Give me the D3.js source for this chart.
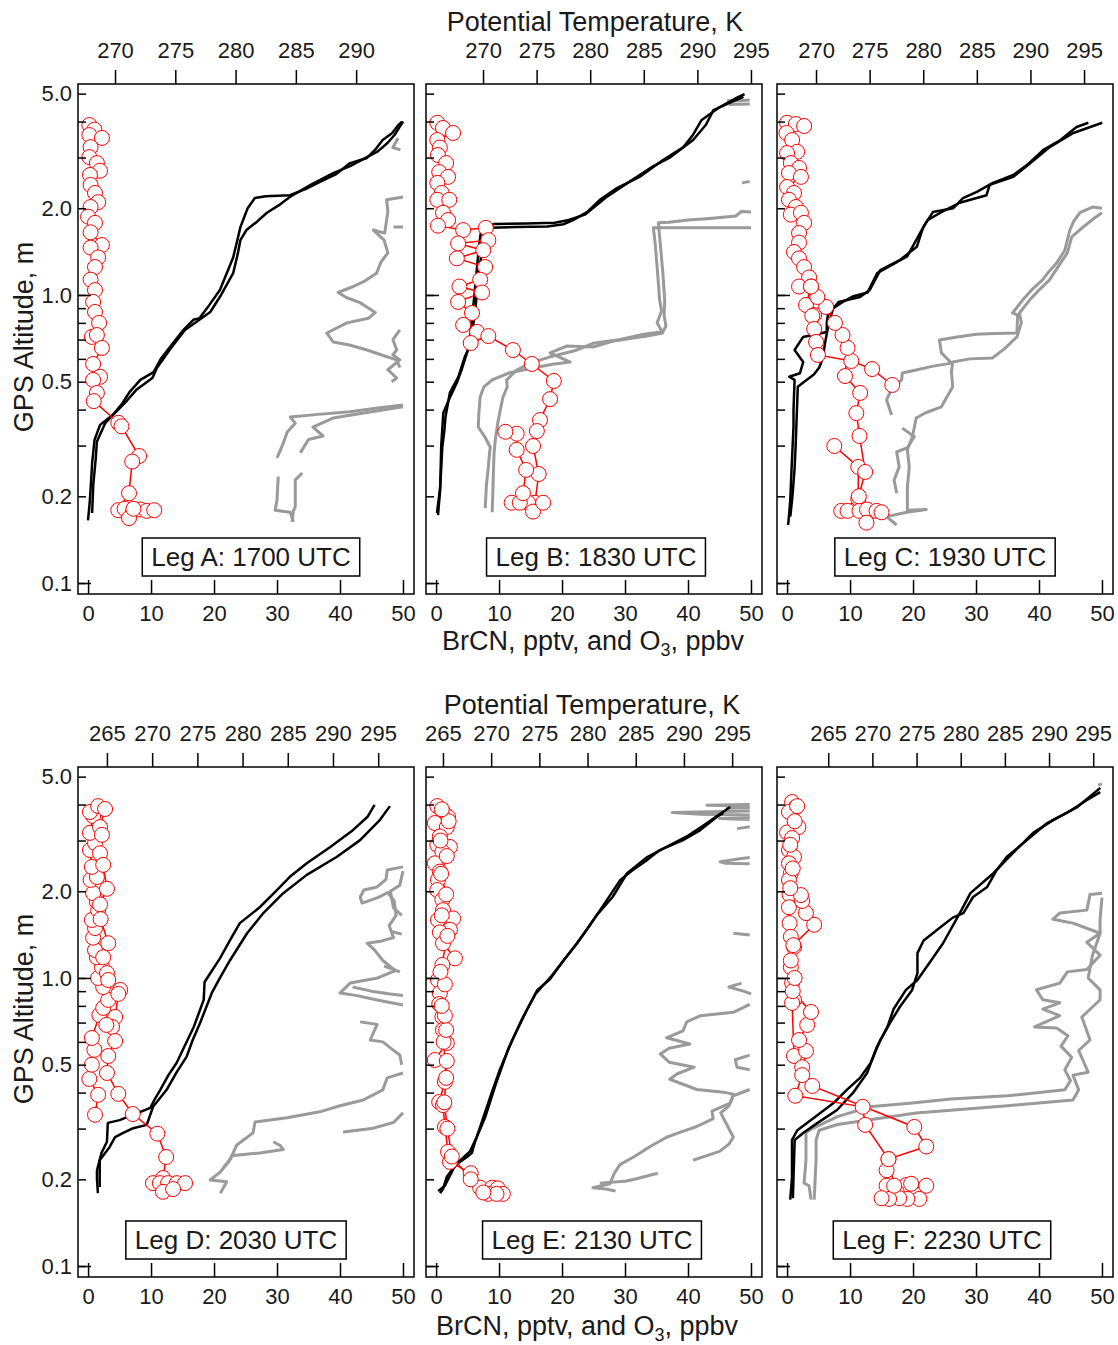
<!DOCTYPE html>
<html lang="en">
<head>
<meta charset="UTF-8">
<title>BrCN, O3 and potential temperature profiles</title>
<script src="https://d3js.org/d3.v7.min.js"></script>
<style>
  body { margin: 0; background: #fff; }
  svg text { font-family: "Liberation Sans", Arial, Helvetica, sans-serif; fill: #1a1a1a; }
</style>
</head>
<body>
<svg id="chart" width="1118" height="1345"></svg>
<script>
// ---- data: [value, altitude m]; null = gap in the record ----
// BrCN (pptv) and O3 (ppbv) share the bottom axis, theta (K) uses the top axis

const legLabels = ["Leg A: 1700 UTC", "Leg B: 1830 UTC", "Leg C: 1930 UTC",
                   "Leg D: 2030 UTC", "Leg E: 2130 UTC", "Leg F: 2230 UTC"];

const thetaDomains = [[266.93, 294.8], [264.68, 296.03], [266.36, 297.7],
                      [261.8, 298.96], [263.24, 298.1], [259.2, 297.24]];

const altTicks = [0.1, 0.2, 0.3, 0.4, 0.5, 0.6, 0.7, 0.8, 0.9, 1, 2, 3, 4, 5];
const altDecades = [0.1, 1];
const altLabels = [0.1, 0.2, 0.5, 1, 2, 5];
const mixTicks = [0, 10, 20, 30, 40, 50];
const thetaTicksTop = [270, 275, 280, 285, 290, 295];
const thetaTicksBottom = [265, 270, 275, 280, 285, 290, 295];

// Leg A
const legA_brcn = [[0.2,3.89],[1.0,3.75],[0.2,3.59],[2.2,3.51],[0.4,3.26],[0.2,3.01],[1.4,2.87],[1.9,2.70],[0.3,2.61],
  [0.4,2.41],[1.1,2.26],[1.6,2.10],[0.4,2.02],[0.0,1.87],[1.1,1.78],[0.4,1.65],[2.2,1.49],[0.4,1.46],[1.6,1.35],
  [1.1,1.25],[0.4,1.13],[1.1,1.04],[0.8,0.946],[1.1,0.873],[1.75,0.80],[0.6,0.715],[1.4,0.726],[2.2,0.655],
  [0.8,0.576],[1.9,0.52],[0.8,0.507],[1.4,0.457],[0.9,0.428],[4.8,0.36],[5.3,0.35],[8.1,0.276],[7.0,0.264],
  [6.5,0.205],[4.8,0.179],[5.8,0.181],[7.2,0.179],[8.3,0.18],[9.3,0.178],[10.5,0.179],[6.5,0.168],[7.2,0.181]];
const legA_thetaUp = [[267.76,0.165],[267.9,0.19],[268.0,0.22],[268.1,0.26],[268.3,0.314],[268.76,0.354],[269.8,0.383],
  [270.6,0.42],[271.2,0.46],[272.1,0.507],[273.2,0.54],[273.8,0.6],[274.8,0.68],[275.6,0.75],[276.5,0.82],[277.0,0.83],
  [277.8,0.92],[278.7,1.04],[279.2,1.17],[279.8,1.35],[280.1,1.52],[280.4,1.72],[281.0,2.0],[281.6,2.17],[282.5,2.2],
  [284.5,2.22],[285.8,2.33],[287.0,2.47],[288.3,2.62],[289.5,2.87],[290.9,2.99],[291.6,3.2],[292.2,3.45],[293.0,3.65],
  [293.5,3.89],[293.8,4.0]];
const legA_thetaDown = [[268.1,0.175],[268.2,0.22],[268.4,0.27],[268.5,0.31],[269.2,0.36],[270.0,0.39],[271.0,0.43],
  [271.8,0.47],[273.1,0.515],[273.5,0.56],[274.6,0.65],[275.8,0.756],[277.0,0.82],[277.9,0.873],[278.8,1.0],[279.8,1.19],
  [280.2,1.4],[280.4,1.55],[280.9,1.68],[281.8,1.8],[282.6,1.93],[283.6,2.05],[284.5,2.19],[286.3,2.42],[288.1,2.65],
  [289.5,2.8],[290.9,3.01],[291.8,3.15],[292.6,3.37],[293.2,3.6],[293.6,3.83],[293.9,4.0]];
const legA_o3Up = [[49.2,3.5],[48.4,3.25],[49.6,3.19],null,[50,2.19],[47.4,2.14],[47.6,1.95],[47.1,1.64],[45.3,1.68],
  [47.0,1.55],[47.6,1.40],[46.5,1.3],[45.8,1.19],[44.0,1.12],[42.1,1.07],[39.7,1.02],[41.0,0.98],[43.2,0.94],[45.6,0.87],
  [44.5,0.83],[41.1,0.80],[37.9,0.738],[38.9,0.687],[41.5,0.67],[44.3,0.644],[46.5,0.62],[49.0,0.595],[49.5,0.56],null,
  [50,0.415],[46,0.405],[41.6,0.393],[36.5,0.385],[32.1,0.377],[32.9,0.359],[31.6,0.334],[31.0,0.306],[30.0,0.272],null,
  [30.2,0.234],[30.1,0.215],[30.0,0.194],[29.7,0.179],[32.1,0.176],[32.6,0.163]];
const legA_o3Down = [[48.5,1.72],[50,1.72],null,[49.5,0.756],[48.4,0.7],[49.0,0.644],[48.4,0.62],[49.5,0.595],[47.6,0.55],
  [49.0,0.515],[48.2,0.5],null,[50,0.409],[44,0.39],[38.9,0.374],[35.7,0.348],[37.3,0.324],[35,0.315],[33.7,0.283],null,
  [34.0,0.241],[32.9,0.228],[32.9,0.184],[32.6,0.178],[32.4,0.163]];

// Leg B
const legB_brcn = [[0.2,3.96],[1.1,3.8],[2.7,3.65],[0.2,3.45],[0.6,3.25],[0.3,3.06],[1.6,2.87],[0.5,2.67],[1.9,2.57],
  [0.2,2.45],[0.9,2.26],[0.2,2.14],[2.1,2.14],[1.1,1.93],[1.9,1.82],[0.3,1.74],[4.3,1.68],[7.9,1.71],[8.3,1.55],
  [3.5,1.51],[7.5,1.43],[3.3,1.34],[7.8,1.25],[7.0,1.13],[3.7,1.07],[7.3,1.02],[3.5,0.946],[5.7,0.866],[4.3,0.787],
  [6.5,0.744],[5.5,0.681],[8.3,0.72],[12.2,0.644],[15.2,0.576],[18.7,0.503],[18.1,0.435],[16.5,0.368],[16.0,0.337],
  [15.4,0.299],[16.3,0.239],[15.7,0.19],[14.6,0.19],[12.0,0.19],[13.3,0.19],[15.4,0.177],[17.0,0.19],[13.8,0.205],
  [14.3,0.247],[12.8,0.29],[12.8,0.33],[11.0,0.335]];
const legB_thetaUp = [[265.7,0.175],[265.9,0.2],[266.0,0.215],[266.1,0.25],[266.2,0.296],[266.4,0.34],[266.5,0.377],
  [266.9,0.457],[267.7,0.52],[268.3,0.61],[268.6,0.644],[268.8,0.72],[269.0,0.85],[269.2,1.0],[269.4,1.2],[269.6,1.45],
  [269.8,1.65],[270.5,1.71],[273,1.72],[276,1.73],[277.5,1.76],[278.4,1.82],[279.7,1.94],[280.9,2.14],[282.5,2.35],
  [284.6,2.57],[286.8,2.94],[288.7,3.26],[289.6,3.6],[290.4,4.05],[292.1,4.49],[293.5,4.8],[294.4,4.98]];
const legB_thetaDown = [[265.8,0.172],[266.0,0.21],[266.1,0.3],[266.3,0.39],[266.9,0.44],[267.6,0.5],[268.0,0.55],
  [268.5,0.63],[268.9,0.7],[269.3,0.9],[269.6,1.2],[270.0,1.5],[270.3,1.68],[271,1.765],[274,1.77],[276.7,1.78],
  [278.0,1.82],[279.5,1.9],[281.6,2.2],[283.5,2.45],[285.9,2.8],[287.5,3.01],[289.6,3.45],[290.8,3.9],[291.5,4.38],
  [293.0,4.64],[294.3,4.87]];
const legB_o3Up = [[46.2,4.72],[48,4.72],[49.8,4.75],null,[50,1.71],[34.5,1.71],[34.8,1.5],[35.1,1.25],[35.3,1.1],
  [35.5,0.96],[35.8,0.88],[35.1,0.80],[36.0,0.738],[33.5,0.72],[31.3,0.709],[28,0.69],[24.9,0.66],[20.8,0.665],
  [18.1,0.63],[21.3,0.585],[18.5,0.575],[15.4,0.558],[11.7,0.537],[8.9,0.507],[7.6,0.48],[7.0,0.443],[6.8,0.39],
  [6.7,0.348],[7.8,0.32],[8.6,0.296],[8.4,0.27],[8.3,0.253],[8.0,0.22],[7.8,0.182]];
const legB_o3Down = [[46.5,4.58],[49.8,4.6],null,[48.6,2.45],[49.8,2.48],null,[50,1.94],[48.5,1.95],[47.6,1.88],[43,1.84],
  [40,1.82],[37,1.79],[35.3,1.78],[35.6,1.5],[36.0,1.2],[36.3,0.96],[36.2,0.85],[36.5,0.78],[36.0,0.745],[33,0.73],
  [29.2,0.7],[25,0.68],[22,0.64],[18.1,0.61],[15,0.58],[12.8,0.549],[11.2,0.507],[11.3,0.48],[10.6,0.44],[10.2,0.399],
  [9.8,0.36],[9.4,0.314],[9.2,0.28],[9.1,0.241],[9.0,0.2],[8.9,0.176]];

// Leg C
const legC_brcnDown = [[0,3.96],[1.4,3.92],[2.7,3.86],[-0.1,3.65],[0.8,3.45],[1.6,3.14],[0,3.11],[0.6,2.87],[1.9,2.76],
  [0.3,2.65],[2.2,2.57],[0,2.37],[1.1,2.26],[0.3,2.14],[1.4,2.02],[0.6,1.9],[2.2,1.93],[2.7,1.78],[1.9,1.64],[1.9,1.52],
  [1.1,1.41],[1.9,1.34],[2.7,1.25],[3.5,1.15],[1.9,1.07],[3.8,1.07],[3.0,0.923],[4.3,0.852],[4.0,0.846],[4.3,0.762],
  [4.6,0.687],[4.9,0.619],[10.2,0.59],[13.5,0.553],[16.7,0.487]];
const legC_brcnUp = [[7.5,0.299],[11.3,0.253],[11.3,0.196],[8.6,0.178],[9.6,0.178],[11.5,0.178],[12.7,0.18],[14.2,0.178],
  [15.0,0.176],[12.6,0.162],[11.4,0.2],[12.4,0.243],[11.5,0.324],[11.0,0.389],[11.6,0.457],[9.2,0.523],[9.6,0.655],
  [8.8,0.726],[7.6,0.80],[6.2,0.909],[4.8,0.984],[3.8,1.07]];
const legC_thetaUp = [[267.4,0.159],[267.5,0.175],[267.6,0.194],[267.7,0.24],[267.8,0.29],[267.9,0.35],[267.9,0.399],
  [268.0,0.507],[267.5,0.52],[268.5,0.535],[268.8,0.585],[268.0,0.644],[268.8,0.715],[271.0,0.744],[271.0,0.8],
  [271.1,0.85],[272.1,0.946],[274.1,0.984],[275.0,1.04],[276.0,1.22],[277.8,1.32],[279.4,1.47],[280.0,1.72],
  [280.9,1.94],[282.8,2.0],[283.7,2.17],[285.0,2.28],[286.5,2.45],[288.4,2.61],[289.7,2.83],[291.2,3.19],[292.8,3.45],
  [294.3,3.83],[295.4,3.96]];
const legC_thetaDown = [[267.6,0.17],[267.8,0.2],[268.0,0.25],[268.1,0.3],[268.2,0.38],[268.3,0.48],[268.9,0.5],
  [269.8,0.53],[270.3,0.56],[270.6,0.6],[270.9,0.7],[271.2,0.8],[271.6,0.9],[272.5,0.946],[273.5,0.99],[274.8,1.02],
  [275.7,1.19],[277.2,1.28],[278.5,1.36],[279.7,1.64],[280.4,1.82],[281.6,1.93],[283.4,2.09],[285.9,2.22],[286.2,2.41],
  [288.4,2.57],[290.0,2.87],[291.8,3.26],[294.0,3.65],[296.7,3.96]];
const legC_o3Up = [[50,2.0],[48.5,2.02],[46.5,1.93],[45.5,1.8],[44.9,1.68],[44.5,1.55],[44.1,1.43],[42.8,1.29],[41.5,1.2],
  [40.6,1.13],[39,1.05],[37.4,0.96],[35.8,0.866],[36.6,0.852],[36.5,0.738],[33,0.735],[30.1,0.73],[27,0.715],[24.2,0.698],
  [24.5,0.63],[26.1,0.58],[23,0.565],[20.5,0.549],[18.3,0.536],[18.2,0.507],[16.7,0.476],[15.8,0.432],[16.6,0.383],null,
  [18.3,0.345],[20.2,0.322],[19.1,0.295],[17.4,0.285],[17.8,0.253],[17.0,0.228],[17.4,0.205]];
const legC_o3Down = [[50,1.93],[48.8,1.85],[47,1.72],[45.2,1.59],[44.5,1.4],[43.0,1.25],[41.7,1.13],[40,1.04],[38.5,0.96],
  [36.9,0.866],[37.2,0.8],[36.5,0.715],[34.5,0.65],[32.6,0.604],[29,0.6],[26.3,0.585],[26.1,0.54],[26.3,0.48],
  [24.5,0.409],[22,0.39],[20.5,0.374],[19.9,0.322],[19.1,0.29],[19.4,0.253],[19.1,0.215],[19.1,0.179],[22.1,0.18],
  [19,0.176],[15.8,0.17],[17.4,0.159]];

// Leg D
const legD_brcnUp = [[1.1,0.335],[1.6,0.393],[0.2,0.446],[0.6,0.50],[1.0,0.563],[0.6,0.619],[1.8,0.744],[2.4,0.787],
  [3.2,0.839],[2.4,0.93],[1.6,1.0],[2.2,1.09],[1.4,1.18],[1.1,1.25],[0.8,1.38],[1.1,1.49],[0.6,1.59],[1.6,1.72],
  [1.4,1.84],[0.8,1.97],[0.4,2.19],[1.4,2.24],[0.6,2.43],[0.3,2.78],[1.1,2.94],[0.3,3.19],[0.8,3.65],[0.3,3.77],[1.6,3.95]];
const legD_brcnDown = [[2.7,3.86],[1.9,3.34],[2.2,3.14],[1.9,2.71],[2.4,2.47],[3.0,2.04],[1.9,1.8],[2.0,1.6],[3.2,1.32],
  [2.4,1.18],[3.0,1.04],[3.2,0.984],[5.1,0.909],[4.8,0.88],[4.3,0.732],[3.8,0.676],[2.9,0.687],[4.3,0.604],[3.2,0.536],
  [3.0,0.468],[4.8,0.396],[7.1,0.337],[11.0,0.288],[12.4,0.239],[11.9,0.202],[10.3,0.194],[11.4,0.194],[12.7,0.194],
  [14.1,0.194],[15.4,0.194],[11.9,0.181],[13.5,0.185]];
const legD_thetaUp = [[264.0,0.179],[263.9,0.2],[263.9,0.215],[264.4,0.247],[265.0,0.27],[265.1,0.314],[266.4,0.321],
  [268.7,0.343],[269.8,0.354],[270.3,0.38],[270.9,0.409],[271.8,0.46],[272.7,0.507],[273.7,0.59],[274.6,0.676],
  [275.7,0.839],[275.8,0.968],[276.7,1.07],[277.5,1.17],[278.6,1.35],[279.7,1.55],[281.9,1.76],[283.8,2.02],[285.2,2.24],
  [287.1,2.5],[289.7,2.85],[292.2,3.26],[293.8,3.62],[294.6,3.99]];
const legD_thetaDown = [[264.2,0.188],[264.2,0.233],[265.3,0.259],[265.9,0.28],[266.8,0.29],[267.9,0.301],[269.4,0.309],
  [270.1,0.357],[271.6,0.409],[272.7,0.47],[273.8,0.532],[274.5,0.61],[275.3,0.698],[276.6,0.887],[277.5,1.0],
  [278.6,1.15],[280.5,1.43],[282.3,1.68],[284.5,1.97],[287.1,2.28],[290.4,2.63],[293.0,3.01],[295.2,3.54],[296.3,3.95]];
const legD_o3Up = [[50,2.43],[47.5,2.37],[47.3,2.2],[45.9,2.07],[43.8,2.02],[43.2,1.91],[43.5,1.82],[46,1.9],[47.6,1.98],
  [48.6,1.85],[48.9,1.65],[47.8,1.52],[48.5,1.38],[46.4,1.34],[44.3,1.32],[45.5,1.25],[46.8,1.15],[48.8,1.06],[46,1.0],
  [41.6,0.96],[40.0,0.887],[42.5,0.87],[45.9,0.839],[50,0.806],null,[50,0.34],[48.5,0.315],[45,0.3],[40.5,0.292],null,
  [29.4,0.27],[30.5,0.262],[31.0,0.254],[27.3,0.247],[23,0.242],[22.1,0.228],[21.5,0.22]];
const legD_o3Down = [[50,2.35],[49.5,2.1],[48,2.0],[48.5,1.75],[49.8,1.65],null,[48.2,1.45],[49.8,1.42],null,[47,1.1],
  [49.5,1.05],null,[42,0.93],[45,0.9],[48,0.88],[50,0.87],null,[43.2,0.704],[45.9,0.69],[44.8,0.609],[46.8,0.6],
  [48.4,0.563],[49.5,0.54],[49.8,0.5],null,[50,0.468],[47.5,0.45],[46.8,0.409],[43.7,0.377],[40.0,0.36],[36.8,0.343],
  [31.6,0.327],[26.5,0.316],[26.2,0.29],[23.6,0.263],[22.5,0.233],[21.0,0.212],[19.4,0.199],[22.0,0.196],[21.0,0.179]];

// Leg E
const legE_brcnDown = [[0.2,3.95],[1.1,3.77],[1.9,3.62],[-0.2,3.45],[1.7,3.34],[0.6,3.10],[2.2,2.85],[0.2,2.9],[1.0,2.74],
  [-0.2,2.5],[0.6,2.34],[0.3,2.19],[0.2,2.02],[1.0,1.87],[1.1,1.72],[2.7,1.61],[0.3,1.59],[2.2,1.47],[0.6,1.44],
  [1.1,1.32],[3.0,1.17],[1.0,1.11],[0.3,0.984],[0.6,0.887],[0.5,0.812],[1.0,0.732],[1.1,0.66],[1.7,0.595],[-0.2,0.519],
  [1.7,0.515],[1.4,0.436],[0.5,0.371],[1.1,0.362],[1.4,0.304],[1.9,0.249],[2.2,0.23],[5.5,0.21],[7.0,0.187],[8.9,0.187],
  [9.8,0.186],[10.6,0.178],[8.3,0.178],[9.6,0.178]];
const legE_brcnUp = [[7.5,0.18],[5.5,0.2],[2.5,0.24],[1.8,0.3],[1.3,0.37],[1.6,0.45],[1.2,0.6],[1.6,0.66],[1.4,0.74],
  [0.9,0.8],[1.4,0.95],[0.7,1.05],[1.8,1.4],[0.9,1.65],[1.6,1.95],[0.8,2.3],[1.7,2.65],[0.7,3.0],[2.0,3.5],[0.9,3.85]];
const legE_thetaUp = [[264.7,0.179],[265.0,0.185],[265.4,0.204],[265.9,0.215],[266.6,0.228],[267.5,0.239],[268.0,0.247],
  [268.3,0.268],[269.0,0.314],[269.9,0.386],[270.9,0.48],[272.2,0.609],[273.7,0.774],[274.8,0.909],[276.1,0.99],
  [277.5,1.15],[278.9,1.32],[280.1,1.5],[281.3,1.72],[282.4,1.95],[283.4,2.19],[284.7,2.37],[286.2,2.57],[287.5,2.78],
  [289.9,3.01],[291.7,3.26],[293.4,3.62],[294.1,3.74]];
const legE_thetaDown = [[264.5,0.182],[265.2,0.19],[266.3,0.225],[267.8,0.25],[268.5,0.28],[269.4,0.33],[270.5,0.43],
  [271.8,0.57],[273.2,0.72],[274.6,0.88],[276.3,1.02],[279.0,1.33],[281.0,1.66],[282.6,1.91],[284.1,2.31],[286.2,2.63],
  [288.2,2.85],[290.3,3.1],[292.4,3.45],[293.7,3.7],[294.8,3.92]];
const legE_o3Up = [[49.8,4.0],[43,3.98],[49.8,3.95],null,[49.8,3.8],[37.5,3.75],[42,3.7],[49.8,3.68],null,[49.8,3.35],
  [47.8,3.3],null,[49.8,2.62],[48.5,2.6],[45.1,2.53],[46,2.5],[49.8,2.49],null,[47.2,1.43],[49.8,1.41],null,[48.5,0.96],
  [46.5,0.93],[48.8,0.9],[50,0.88],null,[49.8,0.81],[47.2,0.76],[42,0.74],[39.8,0.704],[39.2,0.655],[36.6,0.62],
  [40.3,0.59],[37,0.57],[35.6,0.545],[37,0.51],[41,0.49],[38.3,0.465],[37.1,0.445],[41.4,0.41],[46,0.4],[47.2,0.395],
  [46.7,0.368],[43.8,0.345],[44.0,0.325],[41.4,0.305],[38.5,0.29],[36.6,0.28],[34.0,0.26],[31.5,0.24],[29.2,0.225],
  [28.3,0.21],[27.6,0.193],[24.9,0.187],[27,0.185],[28.5,0.182]];
const legE_o3Down = [[49.8,3.9],[46,3.88],null,[49.8,3.6],[45,3.58],[49.8,3.55],null,[49.8,1.1],null,[49.8,0.54],[47.5,0.52],
  [47.8,0.49],[49.8,0.48],null,[49.8,0.41],[47.2,0.39],[46.5,0.36],[45.2,0.34],[47.2,0.28],[46.5,0.265],[45,0.25],
  [40.8,0.233],null,[35.2,0.21],[31.5,0.2],[30,0.197],[26.0,0.194]];

// Leg F
const legF_brcnDown = [[0.8,4.08],[1.4,3.92],[0.3,3.77],[1.8,3.34],[0,3.2],[0.8,3.06],[0.3,2.78],[1.1,2.63],[0.3,2.5],
  [0.6,2.31],[0.3,2.19],[0.4,1.95],[0.3,1.76],[0.4,1.55],[0.6,1.39],[1.1,1.28],[0.6,1.09],[0.8,0.961],[1.1,0.839],
  [0.8,0.819],[1.1,0.536],[2.4,0.49],[4.0,0.422],[20.2,0.304],[22.1,0.26],[16.1,0.235],[15.8,0.215],[15.8,0.19],
  [18.9,0.191],[19.7,0.193],[22.1,0.19],[17.4,0.181],[21.0,0.171],[19.1,0.171],[17.8,0.172],[16.2,0.171],[15.0,0.172]];
const legF_brcnUp = [[17.0,0.19],[16.1,0.235],[12.4,0.309],[12.0,0.357],[1.3,0.39],[2.4,0.46],[3.0,0.558],[1.9,0.609],
  [3.2,0.687],[3.8,0.762],[0.9,0.9],[1.2,1.0],[0.6,1.15],[1.0,1.3],[4.3,1.53],[3.0,1.68],[2.4,1.85],[2.2,1.94],
  [0.5,2.05],[0.9,2.4],[0.5,2.9],[1.2,3.5],[1.6,3.95]];
const legF_thetaUp = [[260.7,0.17],[260.9,0.204],[260.9,0.274],[261.5,0.296],[262.6,0.314],[264.1,0.34],[265.6,0.368],
  [267.1,0.409],[268.6,0.45],[269.8,0.507],[270.9,0.609],[272.0,0.698],[273.1,0.793],[274.5,0.909],[275.1,1.04],
  [275.1,1.22],[275.8,1.35],[277.7,1.5],[279.1,1.62],[280.3,1.68],[281.4,1.91],[283.0,2.07],[284.0,2.35],[285.2,2.63],
  [287.5,3.01],[289.8,3.45],[292.0,3.74],[294.3,4.15],[295.8,4.42]];
const legF_thetaDown = [[261.0,0.172],[261.2,0.274],[262.2,0.29],[263.8,0.314],[266.0,0.348],[267.8,0.399],[269.4,0.468],
  [270.5,0.576],[271.7,0.676],[272.4,0.78],[273.8,0.909],[275.1,0.984],[276.9,1.18],[278.0,1.32],[279.9,1.68],
  [281.1,1.97],[283.7,2.31],[285.9,2.71],[288.2,3.19],[290.5,3.54],[293.2,3.92],[295.8,4.57]];
const legF_o3Up = [[49.4,4.67],[50,4.72],null,[50,1.97],[48.1,1.95],[47.6,1.72],[43.3,1.68],[42.2,1.6],[45.4,1.55],
  [49.7,1.43],[47.6,1.33],[49.7,1.2],[47.6,1.07],[44.5,1.05],[43.3,0.96],[39.6,0.91],[40.6,0.84],[43.3,0.82],[40.6,0.78],
  [43.3,0.74],[39.3,0.676],[42.8,0.67],[44.6,0.63],[43.5,0.58],[45.2,0.53],[44.1,0.48],[45.0,0.44],[44.1,0.409],
  [35,0.39],[26,0.38],[19.9,0.368],[13.1,0.357],[8,0.33],[4.0,0.30],[3.0,0.29],[3.0,0.233],[2.7,0.194],[3.5,0.19],[3.8,0.17]];
const legF_o3Down = [[50,1.9],[49.7,1.6],[49.7,1.43],[48.5,1.2],[47.8,1.0],[49.7,0.909],[49.7,0.84],[46.8,0.732],
  [48.1,0.609],[46.3,0.56],[47.8,0.471],[45.4,0.46],[46.3,0.409],[45.4,0.377],[35,0.36],[20.5,0.34],[8,0.31],[5.1,0.296],
  [4.6,0.274],[4.6,0.233],[4.3,0.17]];

// ---- layout ----
const svg = d3.select("#chart");
const pw = 336, ph = 510;
const cols = [78, 426, 777];
const rows = [84, 767];
const boxOffsets = [173, 170, 168, 158, 166, 165];

const panels = [
  {brcn: [legA_brcn], theta: [legA_thetaUp, legA_thetaDown], o3: [legA_o3Up, legA_o3Down]},
  {brcn: [legB_brcn], theta: [legB_thetaUp, legB_thetaDown], o3: [legB_o3Up, legB_o3Down]},
  {brcn: [legC_brcnDown, legC_brcnUp], theta: [legC_thetaUp, legC_thetaDown], o3: [legC_o3Up, legC_o3Down]},
  {brcn: [legD_brcnUp, legD_brcnDown], theta: [legD_thetaUp, legD_thetaDown], o3: [legD_o3Up, legD_o3Down]},
  {brcn: [legE_brcnDown, legE_brcnUp], theta: [legE_thetaUp, legE_thetaDown], o3: [legE_o3Up, legE_o3Down]},
  {brcn: [legF_brcnDown, legF_brcnUp], theta: [legF_thetaUp, legF_thetaDown], o3: [legF_o3Up, legF_o3Down]}
];

const fmtAlt = d3.format(".1f");

panels.forEach((p, i) => {
  const row = Math.floor(i / 3);
  const left = cols[i % 3], top = rows[row];
  const g = svg.append("g");

  const x = d3.scaleLinear().domain([-1.6, 51.75]).range([left, left + pw]);
  const xt = d3.scaleLinear().domain(thetaDomains[i]).range([left, left + pw]);
  const y = d3.scaleLog().domain([0.0916, 5.40]).range([top + ph, top]);

  const clipId = "clip" + i;
  svg.append("clipPath").attr("id", clipId).append("rect")
    .attr("x", left).attr("y", top).attr("width", pw).attr("height", ph);
  const plot = g.append("g").attr("clip-path", `url(#${clipId})`);

  const lineX = d3.line().defined(d => d).x(d => x(d[0])).y(d => y(d[1]));
  const lineT = d3.line().defined(d => d).x(d => xt(d[0])).y(d => y(d[1]));

  // O3, gray
  p.o3.forEach(s => plot.append("path").attr("d", lineX(s))
    .attr("fill", "none").attr("stroke", "#9a9a9a").attr("stroke-width", 3).attr("stroke-linejoin", "round"));
  // potential temperature, black
  p.theta.forEach(s => plot.append("path").attr("d", lineT(s))
    .attr("fill", "none").attr("stroke", "#000").attr("stroke-width", 2.5).attr("stroke-linejoin", "round"));
  // BrCN, red line + open circles
  p.brcn.forEach(s => plot.append("path").attr("d", lineX(s))
    .attr("fill", "none").attr("stroke", "#ff0000").attr("stroke-width", 1.5));
  p.brcn.forEach(s => plot.selectAll(null).data(s).join("circle")
    .attr("cx", d => x(d[0])).attr("cy", d => y(d[1])).attr("r", 7.5)
    .attr("fill", "#fff").attr("stroke", "#ff0000").attr("stroke-width", 1));

  // leg label box
  const bx = left + boxOffsets[i], by = top + ph - 37;
  const lb = g.append("g");
  const rect = lb.append("rect");
  const txt = lb.append("text").attr("x", bx).attr("y", by + 9).attr("text-anchor", "middle")
    .attr("font-size", 26).text(legLabels[i]);
  const tw = txt.node().getComputedTextLength();
  rect.attr("x", bx - tw / 2 - 9).attr("y", by - 19).attr("width", tw + 18).attr("height", 38)
    .attr("fill", "#fff").attr("stroke", "#000").attr("stroke-width", 1.5);

  // frame
  g.append("rect").attr("x", left).attr("y", top).attr("width", pw).attr("height", ph)
    .attr("fill", "none").attr("stroke", "#000").attr("stroke-width", 1.5);

  // y ticks (inward), longer at decades
  g.append("g").attr("transform", `translate(${left},0)`)
    .call(d3.axisRight(y).tickValues(altTicks).tickSize(8).tickFormat(""));
  g.append("g").attr("transform", `translate(${left},0)`)
    .call(d3.axisRight(y).tickValues(altDecades).tickSize(13).tickFormat(""));
  if (i % 3 === 0) {
    g.append("g").attr("transform", `translate(${left},0)`)
      .call(d3.axisLeft(y).tickValues(altLabels).tickSize(0).tickPadding(6).tickFormat(fmtAlt))
      .call(a => a.selectAll("text").attr("font-size", 22));
  }

  // bottom axis: inward ticks + labels
  g.append("g").attr("transform", `translate(0,${top + ph})`)
    .call(d3.axisTop(x).tickValues(mixTicks).tickSize(14).tickFormat(""));
  g.append("g").attr("transform", `translate(0,${top + ph})`)
    .call(d3.axisBottom(x).tickValues(mixTicks).tickSize(0).tickPadding(11))
    .call(a => a.selectAll("text").attr("font-size", 22));

  // top axis: potential temperature
  const tTicks = (row === 0 ? thetaTicksTop : thetaTicksBottom)
    .filter(t => t >= thetaDomains[i][0] && t <= thetaDomains[i][1]);
  g.append("g").attr("transform", `translate(0,${top})`)
    .call(d3.axisTop(xt).tickValues(tTicks).tickSize(14).tickPadding(12).tickFormat(d3.format("d")))
    .call(a => a.selectAll("text").attr("font-size", 22));

  g.selectAll(".domain").remove();
  g.selectAll(".tick line").attr("stroke", "#000").attr("stroke-width", 1.5);
  g.selectAll(".tick text").attr("fill", "#1a1a1a").attr("font-family", null);
});

// axis titles
[[595, 31], [592, 714]].forEach(([cx, cy]) =>
  svg.append("text").attr("x", cx).attr("y", cy).attr("text-anchor", "middle")
    .attr("font-size", 27).text("Potential Temperature, K"));

[[593, 650], [587, 1335]].forEach(([cx, cy]) => {
  const t = svg.append("text").attr("x", cx).attr("y", cy).attr("text-anchor", "middle").attr("font-size", 27);
  t.append("tspan").text("BrCN, pptv, and O");
  t.append("tspan").attr("font-size", 18).attr("dy", 6).text("3");
  t.append("tspan").attr("dy", -6).text(", ppbv");
});

[[33, 337], [33, 1009]].forEach(([cx, cy]) =>
  svg.append("text").attr("transform", `translate(${cx},${cy}) rotate(-90)`).attr("text-anchor", "middle")
    .attr("font-size", 27).text("GPS Altitude, m"));
</script>
</body>
</html>
